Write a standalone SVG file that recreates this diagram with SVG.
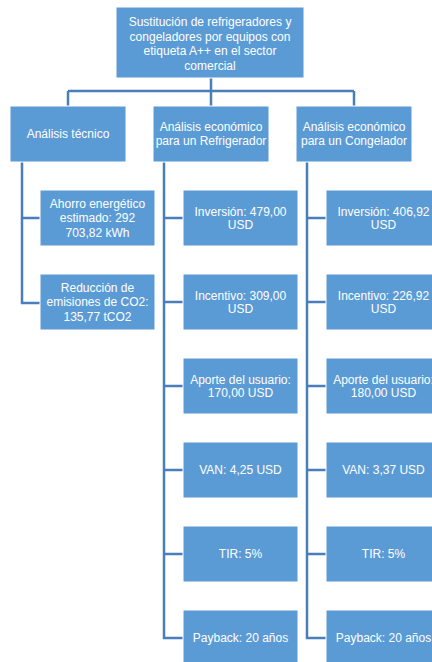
<svg xmlns="http://www.w3.org/2000/svg" width="432" height="662" viewBox="0 0 432 662">
  <style>
    .box { fill: #5B9BD5; stroke: #ffffff; stroke-width: 1; }
    .lbl { fill: #ffffff; font-family: "Liberation Sans", Arial, sans-serif; font-size: 12px; text-anchor: middle; dominant-baseline: central; }
    .conn { fill: none; stroke: #4A7EBB; stroke-width: 2.5; }
  </style>
  <rect width="432" height="662" fill="#ffffff"/>

  <!-- connectors -->
  <g id="connectors">
    <path class="conn" d="M211 78 V91 M68 91 H354 M68 91 V106 M211 91 V106 M354 91 V106"/>
    <path class="conn" d="M22 162 V303 H40 M22 218 H40"/>
    <path class="conn" d="M164 162 V638 H183 M164 218 H183 M164 302 H183 M164 386 H183 M164 470 H183 M164 554 H183"/>
    <path class="conn" d="M307 162 V638 H326 M307 218 H326 M307 302 H326 M307 386 H326 M307 470 H326 M307 554 H326"/>
  </g>

  <!-- root -->
  <g id="root">
    <rect class="box" x="116" y="7" width="188" height="71"/>
    <text class="lbl" x="210" y="22">Sustitución de refrigeradores y</text>
    <text class="lbl" x="210" y="36.5">congeladores por equipos con</text>
    <text class="lbl" x="210" y="51">etiqueta A++ en el sector</text>
    <text class="lbl" x="210" y="65.5">comercial</text>
  </g>

  <!-- level 1 -->
  <g id="tecnico">
    <rect class="box" x="10" y="106" width="116" height="56"/>
    <text class="lbl" x="68" y="134">Análisis técnico</text>
  </g>
  <g id="refrigerador">
    <rect class="box" x="153" y="106" width="116" height="56"/>
    <text class="lbl" x="211" y="127">Análisis económico</text>
    <text class="lbl" x="211" y="141">para un Refrigerador</text>
  </g>
  <g id="congelador">
    <rect class="box" x="296" y="106" width="116" height="56"/>
    <text class="lbl" x="354" y="127">Análisis económico</text>
    <text class="lbl" x="354" y="141">para un Congelador</text>
  </g>

  <!-- technical branch -->
  <g id="ahorro">
    <rect class="box" x="40" y="190" width="115" height="56"/>
    <text class="lbl" x="97.5" y="203.5">Ahorro energético</text>
    <text class="lbl" x="97.5" y="218">estimado: 292</text>
    <text class="lbl" x="97.5" y="232.5">703,82 kWh</text>
  </g>
  <g id="emisiones">
    <rect class="box" x="40" y="274" width="115" height="56"/>
    <text class="lbl" x="97.5" y="287.5">Reducción de</text>
    <text class="lbl" x="97.5" y="302">emisiones de CO2:</text>
    <text class="lbl" x="97.5" y="316.5">135,77 tCO2</text>
  </g>

  <!-- refrigerator branch -->
  <g id="ref-inversion">
    <rect class="box" x="183" y="190" width="115" height="56"/>
    <text class="lbl" x="240.5" y="211.5">Inversión: 479,00</text>
    <text class="lbl" x="240.5" y="225">USD</text>
  </g>
  <g id="ref-incentivo">
    <rect class="box" x="183" y="274" width="115" height="56"/>
    <text class="lbl" x="240.5" y="295.5">Incentivo: 309,00</text>
    <text class="lbl" x="240.5" y="309">USD</text>
  </g>
  <g id="ref-aporte">
    <rect class="box" x="183" y="358" width="115" height="56"/>
    <text class="lbl" x="240.5" y="379.5">Aporte del usuario:</text>
    <text class="lbl" x="240.5" y="393">170,00 USD</text>
  </g>
  <g id="ref-van">
    <rect class="box" x="183" y="442" width="115" height="56"/>
    <text class="lbl" x="240.5" y="470">VAN: 4,25 USD</text>
  </g>
  <g id="ref-tir">
    <rect class="box" x="183" y="526" width="115" height="56"/>
    <text class="lbl" x="240.5" y="554">TIR: 5%</text>
  </g>
  <g id="ref-payback">
    <rect class="box" x="183" y="610" width="115" height="56"/>
    <text class="lbl" x="240.5" y="638">Payback: 20 años</text>
  </g>

  <!-- freezer branch -->
  <g id="con-inversion">
    <rect class="box" x="326" y="190" width="115" height="56"/>
    <text class="lbl" x="383.5" y="211.5">Inversión: 406,92</text>
    <text class="lbl" x="383.5" y="225">USD</text>
  </g>
  <g id="con-incentivo">
    <rect class="box" x="326" y="274" width="115" height="56"/>
    <text class="lbl" x="383.5" y="295.5">Incentivo: 226,92</text>
    <text class="lbl" x="383.5" y="309">USD</text>
  </g>
  <g id="con-aporte">
    <rect class="box" x="326" y="358" width="115" height="56"/>
    <text class="lbl" x="383.5" y="379.5">Aporte del usuario:</text>
    <text class="lbl" x="383.5" y="393">180,00 USD</text>
  </g>
  <g id="con-van">
    <rect class="box" x="326" y="442" width="115" height="56"/>
    <text class="lbl" x="383.5" y="470">VAN: 3,37 USD</text>
  </g>
  <g id="con-tir">
    <rect class="box" x="326" y="526" width="115" height="56"/>
    <text class="lbl" x="383.5" y="554">TIR: 5%</text>
  </g>
  <g id="con-payback">
    <rect class="box" x="326" y="610" width="115" height="56"/>
    <text class="lbl" x="383.5" y="638">Payback: 20 años</text>
  </g>
</svg>
